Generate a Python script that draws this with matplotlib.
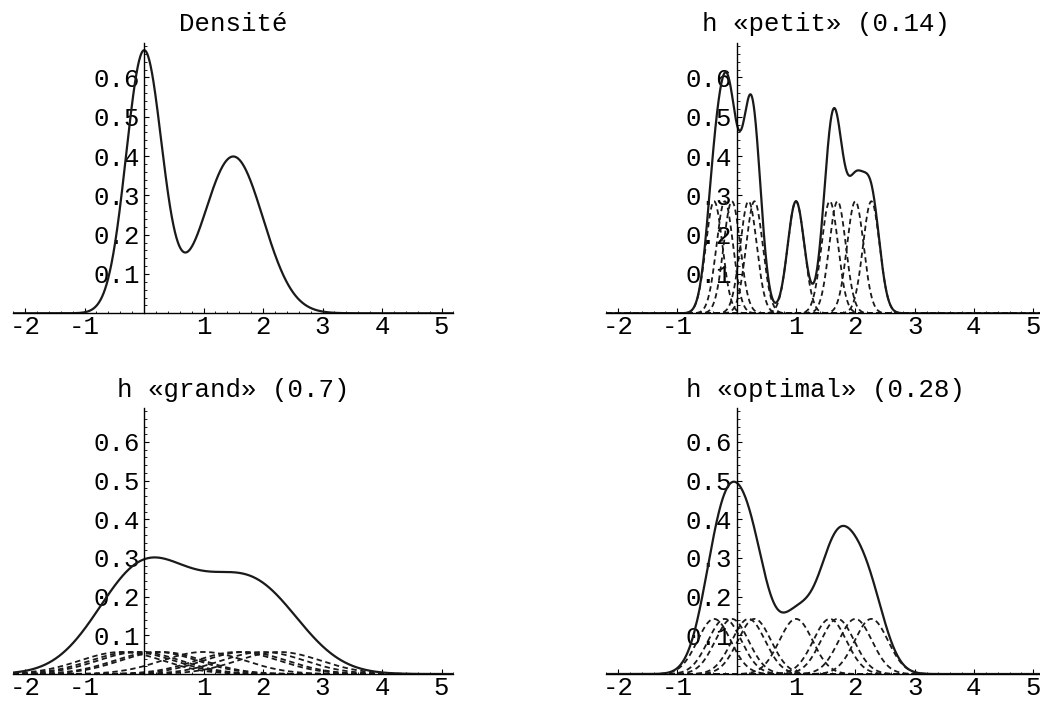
import numpy as np
import matplotlib
matplotlib.use('Agg')
import matplotlib.pyplot as plt
from matplotlib.ticker import MultipleLocator, FixedLocator, FixedFormatter

points = [-0.38, -0.2, -0.08, 0.2, 0.3, 1.0, 1.57, 1.7, 2.0, 2.27]

# vraie densite : melange de deux normales
poids = [0.5, 0.5]
moyennes = [0.0, 1.5]
ecarts = [0.3, 0.5]

# fenetres h
h_petit = 0.14
h_grand = 0.7
h_optimal = 0.28

titres = ['Densité', 'h «petit» (0.14)', 'h «grand» (0.7)', 'h «optimal» (0.28)']
xticks = [-2, -1, 1, 2, 3, 4, 5]
xlabels = ['-2', '-1', '1', '2', '3', '4', '5']
yticks = [0.1, 0.2, 0.3, 0.4, 0.5, 0.6]
ylabels = ['0.1', '0.2', '0.3', '0.4', '0.5', '0.6']

plt.rcParams['font.family'] = ['Liberation Mono', 'DejaVu Sans Mono']

def normale(x, m, s):
    return np.exp(-0.5 * ((x - m) / s) ** 2) / (s * np.sqrt(2 * np.pi))

x = np.linspace(-2.2, 5.2, 1500)
n = len(points)

fig = plt.figure(figsize=(10.4, 7.01), dpi=100)
positions = [
    [0.0126, 0.5531, 0.4234, 0.3852],
    [0.5828, 0.5531, 0.4222, 0.3852],
    [0.0126, 0.0385, 0.4234, 0.3790],
    [0.5828, 0.0385, 0.4222, 0.3790],
]
axes = [fig.add_axes(p) for p in positions]

def habiller(ax, titre):
    ax.set_xlim(-2.2, 5.2)
    ax.set_ylim(0, 0.687)
    for s in ['top', 'right']:
        ax.spines[s].set_visible(False)
    ax.spines['left'].set_position(('data', 0))
    ax.spines['bottom'].set_position(('data', 0))
    ax.spines['left'].set_linewidth(1.0)
    ax.spines['bottom'].set_linewidth(1.0)
    ax.xaxis.set_major_locator(FixedLocator(xticks))
    ax.xaxis.set_major_formatter(FixedFormatter(xlabels))
    ax.yaxis.set_major_locator(FixedLocator(yticks))
    ax.yaxis.set_major_formatter(FixedFormatter(ylabels))
    ax.xaxis.set_minor_locator(MultipleLocator(0.2))
    ax.yaxis.set_minor_locator(MultipleLocator(0.02))
    ax.tick_params(which='major', direction='in', length=3.5, width=0.8,
                   labelsize=18.5)
    ax.tick_params(which='minor', direction='in', length=1.8, width=0.6)
    ax.tick_params(axis='x', pad=1.5)
    ax.tick_params(axis='y', pad=3)
    ax.patch.set_alpha(0)
    ax.text(0.5, 1.07, titre, transform=ax.transAxes, ha='center',
            va='center', fontsize=18.5)

# densite vraie
y = sum(w * normale(x, m, s) for w, m, s in zip(poids, moyennes, ecarts))
axes[0].plot(x, y, color='#1a1a1a', lw=1.6)
habiller(axes[0], titres[0])

for ax, h, titre in zip(axes[1:], [h_petit, h_grand, h_optimal], titres[1:]):
    total = np.zeros_like(x)
    for p in points:
        k = normale(x, p, h) / n
        total += k
        ax.plot(x, k, color='#1a1a1a', lw=1.3, linestyle=(0, (3, 2)))
    ax.plot(x, total, color='#1a1a1a', lw=1.6)
    habiller(ax, titre)

plt.savefig('out.png', dpi=100)
